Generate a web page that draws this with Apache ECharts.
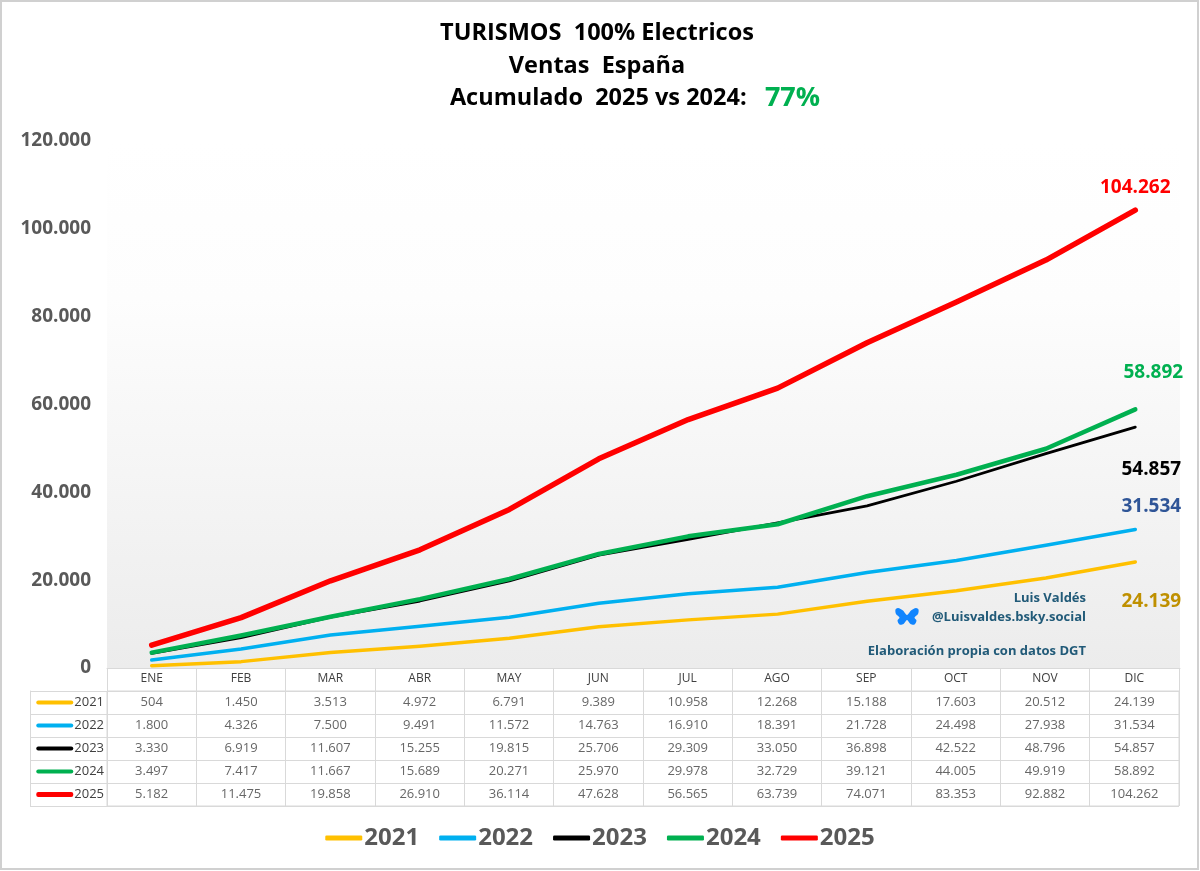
<!DOCTYPE html>
<html>
<head>
<meta charset="utf-8">
<script src="https://cdn.jsdelivr.net/npm/echarts@6/dist/echarts.min.js"></script>
<style>
    html, body { margin: 0; padding: 0; background: #fff; }
    #main { width: 1200px; height: 871px; }
</style>
</head>
<body>
<div id="main"></div>
<script>
    // datos DGT, acumulado mensual
    var meses = ['ENE', 'FEB', 'MAR', 'ABR', 'MAY', 'JUN', 'JUL', 'AGO', 'SEP', 'OCT', 'NOV', 'DIC'];
    var anios = ['2021', '2022', '2023', '2024', '2025'];
    var v2021 = [504, 1450, 3513, 4972, 6791, 9389, 10958, 12268, 15188, 17603, 20512, 24139];
    var v2022 = [1800, 4326, 7500, 9491, 11572, 14763, 16910, 18391, 21728, 24498, 27938, 31534];
    var v2023 = [3330, 6919, 11607, 15255, 19815, 25706, 29309, 33050, 36898, 42522, 48796, 54857];
    var v2024 = [3497, 7417, 11667, 15689, 20271, 25970, 29978, 32729, 39121, 44005, 49919, 58892];
    var v2025 = [5182, 11475, 19858, 26910, 36114, 47628, 56565, 63739, 74071, 83353, 92882, 104262];
    var valores = [v2021, v2022, v2023, v2024, v2025];

    var colores = ['#FFC000', '#00B0F0', '#000000', '#00B050', '#FF0000'];
    var grosor = [3.5, 3.5, 2.8, 4.5, 5.5];
    var colorEtiqueta = ['#BF9000', '#2F5597', '#000000', '#00B050', '#FF0000'];
    var offsetEtiqueta = [[16, 25], [16, -8], [16, 28], [18, -22], [0, -8]];
    var posEtiqueta = ['bottom', 'top', 'bottom', 'top', 'top'];

    var fuente = "'Open Sans', 'Noto Sans', sans-serif";
    var gris = '#d9d9d9';

    function fmt(v) {
        return String(v).replace(/\B(?=(\d{3})+(?!\d))/g, '.');
    }

    var chart = echarts.init(document.getElementById('main'));

    var series = [];
    //lineas del grafico
    anios.forEach(function (a, k) {
        series.push({
            name: a,
            type: 'line',
            xAxisIndex: 0,
            yAxisIndex: 0,
            data: valores[k],
            symbol: 'none',
            lineStyle: {width: grosor[k], color: colores[k], cap: 'round', join: 'round'},
            itemStyle: {color: colores[k]},
            markPoint: {
                symbol: 'circle',
                symbolSize: 0,
                data: [{coord: [11, valores[k][11]], value: valores[k][11]}],
                label: {
                    show: true,
                    position: posEtiqueta[k],
                    offset: offsetEtiqueta[k],
                    formatter: function (p) { return fmt(p.value); },
                    color: colorEtiqueta[k],
                    fontFamily: fuente,
                    fontWeight: 'bold',
                    fontSize: 19
                }
            },
            z: 3 + k
        });
    });
    //tabla de datos
    anios.forEach(function (a, k) {
        series.push({
            name: 'tabla ' + a,
            type: 'scatter',
            xAxisIndex: 1,
            yAxisIndex: 1,
            symbolSize: 0,
            data: valores[k].map(function (v, i) { return [i, k, v]; }),
            itemStyle: {color: 'transparent'},
            label: {
                show: true,
                position: 'inside',
                formatter: function (p) { return fmt(p.data[2]); },
                color: '#404040',
                fontFamily: fuente,
                fontSize: 13
            },
            silent: true
        });
    });

    var richAnios = {};
    anios.forEach(function (a, k) {
        richAnios['s' + k] = {width: 37, height: k === 4 ? 5 : 4, backgroundColor: colores[k], borderRadius: 2};
    });
    richAnios.t = {fontSize: 13, color: '#404040', fontFamily: fuente, padding: [0, 0, 0, 1]};

    var option = {
        backgroundColor: '#fff',
        animation: false,
        textStyle: {fontFamily: fuente},
        grid: [{
            left: 107, right: 20, top: 141, bottom: 203,
            show: true, borderWidth: 0,
            backgroundColor: {
                type: 'linear', x: 0, y: 0, x2: 0, y2: 1,
                colorStops: [
                    {offset: 0, color: '#ffffff'},
                    {offset: 0.3, color: '#fdfdfd'},
                    {offset: 1, color: '#ececec'}
                ]
            }
        }, {
            left: 107, right: 21, top: 691, height: 115,
            show: true, borderColor: gris, borderWidth: 1
        }],
        xAxis: [{
            gridIndex: 0,
            type: 'category',
            data: meses,
            boundaryGap: true,
            axisLine: {show: true, lineStyle: {color: gris}},
            axisTick: {show: false},
            axisLabel: {show: false},
            splitLine: {show: false}
        }, {
            gridIndex: 1,
            type: 'category',
            position: 'top',
            data: meses,
            boundaryGap: true,
            axisLine: {show: true, lineStyle: {color: gris}},
            axisTick: {show: true, length: 23, lineStyle: {color: gris}},
            axisLabel: {show: true, margin: 6, color: '#404040', fontSize: 12, fontFamily: fuente},
            splitLine: {show: true, lineStyle: {color: gris}}
        }],
        yAxis: [{
            gridIndex: 0,
            type: 'value',
            min: 0,
            max: 120000,
            interval: 20000,
            axisLine: {show: false},
            axisTick: {show: false},
            splitLine: {show: false},
            axisLabel: {
                margin: 16,
                color: '#595959',
                fontWeight: 'bold',
                fontSize: 19,
                fontFamily: fuente,
                formatter: function (v) { return fmt(v); }
            }
        }, {
            gridIndex: 1,
            type: 'category',
            data: anios,
            inverse: true,
            axisLine: {show: true, lineStyle: {color: gris}},
            axisTick: {show: true, length: 77, lineStyle: {color: gris}},
            splitLine: {show: true, lineStyle: {color: gris}},
            axisLabel: {
                margin: 3,
                formatter: function (v, i) { return '{s' + i + '|}{t|' + v + '}'; },
                rich: richAnios
            }
        }, {
            gridIndex: 1,
            type: 'category',
            data: anios,
            inverse: true,
            position: 'left',
            offset: 77,
            axisLine: {show: true, lineStyle: {color: gris}},
            axisTick: {show: false},
            axisLabel: {show: false}
        }],
        legend: {
            data: anios,
            bottom: 16,
            left: 'center',
            icon: 'roundRect',
            itemWidth: 37,
            itemHeight: 5,
            itemGap: 20,
            textStyle: {fontSize: 24, fontWeight: 'bold', color: '#595959', fontFamily: fuente, padding: [0, 0, 0, -3]}
        },
        graphic: [{
            type: 'rect',
            shape: {x: 1, y: 1, width: 1197, height: 868},
            style: {fill: 'none', stroke: '#d0d0d0', lineWidth: 2},
            silent: true
        }, {
            type: 'text',
            x: 597, y: 33,
            style: {text: 'TURISMOS  100% Electricos', align: 'center', verticalAlign: 'middle',
                font: 'bold 23.5px ' + fuente, fill: '#000'}
        }, {
            type: 'text',
            x: 597, y: 66,
            style: {text: 'Ventas  España', align: 'center', verticalAlign: 'middle',
                font: 'bold 23.5px ' + fuente, fill: '#000'}
        }, {
            type: 'text',
            x: 635, y: 98,
            style: {
                text: 'Acumulado  2025 vs 2024:   {g|77%}', align: 'center', verticalAlign: 'middle',
                font: 'bold 23.5px ' + fuente, fill: '#000',
                rich: {g: {fontSize: 27, fontWeight: 'bold', fill: '#00B050', fontFamily: fuente}}
            }
        }, {
            type: 'text',
            x: 1086, y: 598,
            style: {text: 'Luis Valdés', align: 'right', verticalAlign: 'middle',
                font: 'bold 13px ' + fuente, fill: '#215A78'}
        }, {
            type: 'text',
            x: 1086, y: 617,
            style: {text: '@Luisvaldes.bsky.social', align: 'right', verticalAlign: 'middle',
                font: 'bold 13px ' + fuente, fill: '#215A78'}
        }, {
            type: 'text',
            x: 1086, y: 651,
            style: {text: 'Elaboración propia con datos DGT', align: 'right', verticalAlign: 'middle',
                font: 'bold 13px ' + fuente, fill: '#215A78'}
        }, {
            type: 'polygon',
            x: 895, y: 608,
            shape: {
                points: [[12, 7], [8, 2.5], [3, 0], [0.5, 1.5], [1, 6], [4.5, 9.5], [2.5, 12.5], [4.5, 16.5], [8.5, 16], [12, 12],
                    [15.5, 16], [19.5, 16.5], [21.5, 12.5], [19.5, 9.5], [23, 6], [23.5, 1.5], [21, 0], [16, 2.5]],
                smooth: 0.3
            },
            style: {fill: '#1185FE'}
        }],
        series: series
    };
    chart.setOption(option);
</script>
</body>
</html>
